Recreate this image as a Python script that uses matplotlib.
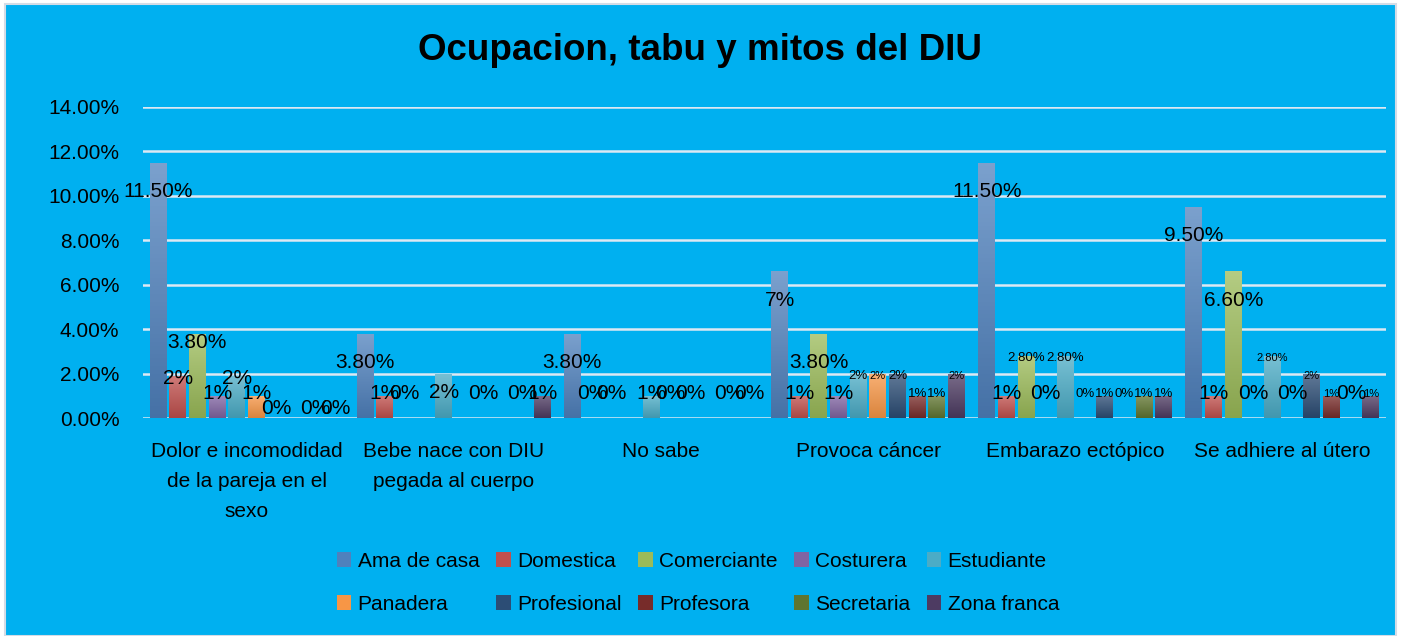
import numpy as np
import matplotlib
matplotlib.use("Agg")
import matplotlib.pyplot as plt
from matplotlib.patches import Rectangle
from matplotlib.colors import LinearSegmentedColormap, to_rgb

plt.rcParams['font.family'] = ['Liberation Sans', 'DejaVu Sans']

# Data
categories = ["Dolor e incomodidad\nde la pareja en el\nsexo", "Bebe nace con DIU\npegada al cuerpo",
              "No sabe", "Provoca cáncer", "Embarazo ectópico", "Se adhiere al útero"]
series = ["Ama de casa", "Domestica", "Comerciante", "Costurera", "Estudiante",
          "Panadera", "Profesional", "Profesora", "Secretaria", "Zona franca"]
nan = np.nan
ama_de_casa = [11.5, 3.8, 3.8, 6.6, 11.5, 9.5]
domestica = [1.9, 1.0, 0, 1.0, 1.0, 1.0]
comerciante = [3.8, 0, 0, 3.8, 2.8, 6.6]
costurera = [1.0, nan, nan, 1.0, 0, 0]
estudiante = [1.9, 2.0, 1.0, 2.0, 2.8, 2.8]
panadera = [1.0, nan, 0, 2.0, 0, 0]
profesional = [0, 0, 0, 2.0, 1.0, 2.0]
profesora = [nan, nan, nan, 1.0, 0, 1.0]
secretaria = [0, 0, 0, 1.0, 1.0, 0]
zona_franca = [0, 1.0, 0, 2.0, 1.0, 1.0]
values = [ama_de_casa, domestica, comerciante, costurera, estudiante,
          panadera, profesional, profesora, secretaria, zona_franca]

# data label texts as shown in the chart
labels = [
    ["11.50%", "3.80%", "3.80%", "7%", "11.50%", "9.50%"],
    ["2%", "1%", "0%", "1%", "1%", "1%"],
    ["3.80%", "0%", "0%", "3.80%", "2.80%", "6.60%"],
    ["1%", "", "", "1%", "0%", "0%"],
    ["2%", "2%", "1%", "2%", "2.80%", "2.80%"],
    ["1%", "", "0%", "2%", "0%", "0%"],
    ["0%", "0%", "0%", "2%", "1%", "2%"],
    ["", "", "", "1%", "0%", "1%"],
    ["0%", "0%", "0%", "1%", "1%", "0%"],
    ["0%", "1%", "0%", "2%", "1%", "1%"],
]

# styling
colors = ["#4F81BD", "#C0504D", "#9BBB59", "#8064A2", "#4BACC6",
          "#F79646", "#2C4D75", "#772C2A", "#5F7530", "#4D3B62"]
L, M, S = 15, 9.5, 8
label_sizes = {3: [L, L, L, L, M, S, M, M, M, S],
               4: [L, L, M, L, M, M, M, M, M, M],
               5: [L, L, L, L, S, L, S, S, L, S]}
label_y_fix = {(0, 2): 3.4, (0, 6): 0.45, (0, 8): 0.45, (0, 9): 0.45, (1, 4): 1.15}

W, H = 1403, 636
fig = plt.figure(figsize=(W / 100, H / 100), dpi=100)
fig.patch.set_facecolor('white')
bg = Rectangle((5 / W, 0), 1391 / W, 632 / H, transform=fig.transFigure,
               facecolor='#00B0F0', edgecolor='#d4dce6', linewidth=1.5, zorder=-10)
fig.patches.append(bg)

ax = fig.add_axes([143 / W, 1 - 418 / H, (1386 - 143) / W, (418 - 107) / H])
ax.set_facecolor('none')

x = np.arange(len(categories))
step, width = 0.095, 0.082
handles = []
for i, (name, vals, col) in enumerate(zip(series, values, colors)):
    off = (i - 4.5) * step
    bars = ax.bar(x + off, vals, width, color=col, label=name, zorder=2)
    handles.append(bars)
    c = np.array(to_rgb(col))
    top = c + (1 - c) * 0.25
    bot = c * 0.88
    cmap = LinearSegmentedColormap.from_list(name, [bot, top])
    grad = np.linspace(0, 1, 64).reshape(-1, 1)
    for b in bars:
        h = b.get_height()
        if not np.isfinite(h) or h <= 0:
            continue
        im = ax.imshow(grad, extent=[b.get_x(), b.get_x() + b.get_width(), 0, h],
                       origin='lower', aspect='auto', cmap=cmap, zorder=2.5)
        im.set_clip_path(b)

# data labels
for i, vals in enumerate(values):
    off = (i - 4.5) * step
    for g, v in enumerate(vals):
        txt = labels[i][g]
        if not txt:
            continue
        size = label_sizes.get(g, [L] * 10)[i]
        if (g, i) in label_y_fix:
            y = label_y_fix[(g, i)]
        elif size == L and v >= 3:
            y = v - 1.3
        else:
            y = max(v - 0.1, 1.1)
        ax.text(g + off, y, txt, ha='center', va='center', fontsize=size, color='black', zorder=4)

ax.set_xlim(-0.5, len(categories) - 0.5)
ax.set_ylim(0, 14)
ax.set_yticks(np.arange(0, 15, 2))
ax.set_yticklabels([f"{t:.2f}%" for t in np.arange(0, 15, 2)], fontsize=15)
ax.set_xticks(x)
ax.set_xticklabels(categories, fontsize=15, linespacing=1.75, va='top')
ax.tick_params(axis='both', length=0)
ax.tick_params(axis='y', pad=17)
ax.tick_params(axis='x', pad=17)
ax.grid(axis='y', color='#dde8f3', linewidth=1.8, zorder=1)
ax.set_axisbelow(True)
for s in ax.spines.values():
    s.set_visible(False)

fig.text(700 / W, 1 - 51 / H, "Ocupacion, tabu y mitos del DIU", ha='center', va='center',
         fontsize=26.5, fontweight='bold')

# legend filled row by row (matplotlib fills columns first)
order = [0, 5, 1, 6, 2, 7, 3, 8, 4, 9]
fig.legend([handles[k] for k in order], [series[k] for k in order],
           loc='center', bbox_to_anchor=(698 / W, 1 - 583 / H), ncol=5, frameon=False,
           fontsize=15, handlelength=0.7, handleheight=0.7, handletextpad=0.3,
           columnspacing=0.8, labelspacing=1.15)

fig.savefig("out.png", dpi=100, facecolor=fig.get_facecolor())
